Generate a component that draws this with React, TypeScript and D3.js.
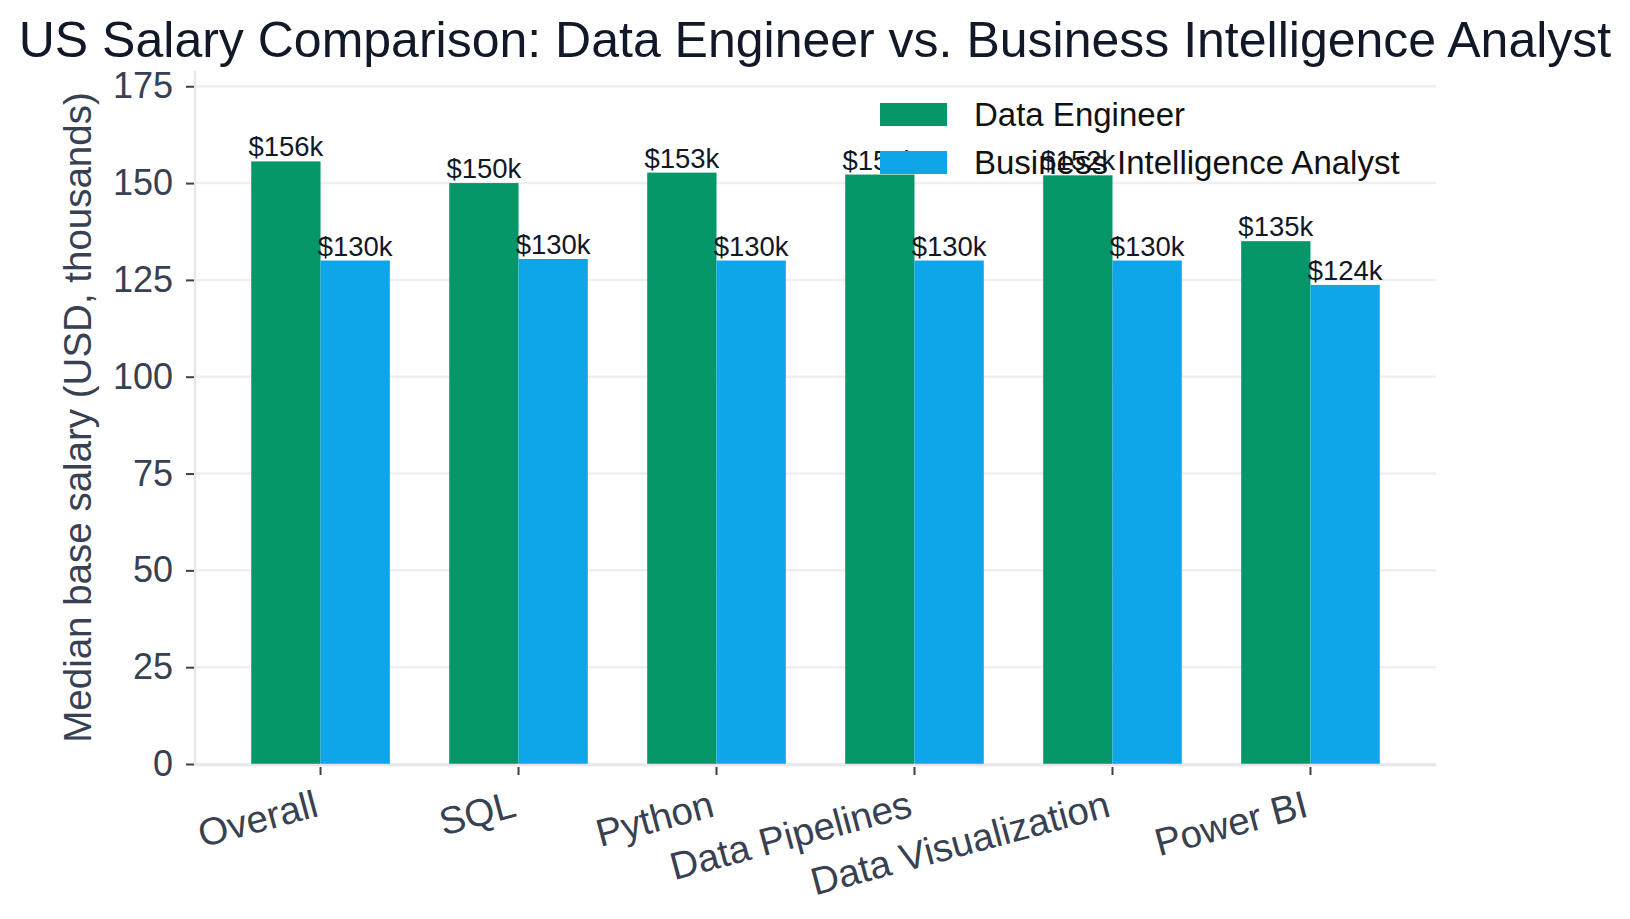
import React, { useEffect, useRef } from 'react';
import * as d3 from 'd3';

// chart data
const categories = ['Overall', 'SQL', 'Python', 'Data Pipelines', 'Data Visualization', 'Power BI'];
const seriesNames = ['Data Engineer', 'Business Intelligence Analyst'];
const dataEngineer = [155.6, 150.0, 152.7, 152.2, 152.0, 135.0];
const biAnalyst = [130.0, 130.4, 130.0, 130.0, 130.0, 123.7];
const yTicks = [0, 25, 50, 75, 100, 125, 150, 175];
const colors = ['#059669', '#0ea5e9'];

const W = 1630;
const H = 919;
const FONT = '"Liberation Sans", Arial, Helvetica, sans-serif';

export default function App() {
  const ref = useRef<SVGSVGElement>(null);

  useEffect(() => {
    const svg = d3.select(ref.current);
    svg.selectAll('*').remove();

    const left = 195, right = 1436, top = 71, bottom = 764;
    const yMax = (d3.max(dataEngineer) as number) * 1.15;

    const x = d3.scaleBand<string>()
      .domain(categories)
      .range([left, right])
      .paddingInner(0.3)
      .paddingOuter(0.284);
    const xs = d3.scaleBand<string>()
      .domain(seriesNames)
      .range([0, x.bandwidth()]);
    const y = d3.scaleLinear().domain([0, yMax]).range([bottom, top]);

    const rows = categories.map((c, i) => ({ cat: c, vals: [dataEngineer[i], biAnalyst[i]] }));

    // title
    svg.append('text')
      .attr('x', W / 2)
      .attr('y', 57)
      .attr('text-anchor', 'middle')
      .style('font-family', FONT)
      .style('font-size', '50px')
      .style('fill', '#111827')
      .text('US Salary Comparison: Data Engineer vs. Business Intelligence Analyst');

    // grid
    svg.append('g')
      .selectAll('line')
      .data(yTicks)
      .enter()
      .append('line')
      .attr('x1', left)
      .attr('x2', right)
      .attr('y1', d => y(d))
      .attr('y2', d => y(d))
      .style('stroke', '#eeeff2')
      .style('stroke-width', 2.5);

    // bars
    const groups = svg.append('g')
      .selectAll('g')
      .data(rows)
      .enter()
      .append('g')
      .attr('transform', d => `translate(${x(d.cat)},0)`);

    groups.selectAll('rect')
      .data(d => d.vals.map((v, k) => ({ v, k })))
      .enter()
      .append('rect')
      .attr('x', d => xs(seriesNames[d.k]) as number)
      .attr('y', d => y(d.v))
      .attr('width', xs.bandwidth())
      .attr('height', d => y(0) - y(d.v))
      .style('fill', d => colors[d.k]);

    // spines
    svg.append('line')
      .attr('x1', left).attr('x2', left).attr('y1', top).attr('y2', bottom + 1.5)
      .style('stroke', '#e5e7eb').style('stroke-width', 2.5);
    svg.append('line')
      .attr('x1', left).attr('x2', right).attr('y1', bottom + 1).attr('y2', bottom + 1)
      .style('stroke', '#e5e7eb').style('stroke-width', 2.5);

    // y axis
    const yAxis = svg.append('g')
      .attr('transform', `translate(${left - 1},0)`)
      .call(d3.axisLeft(y).tickValues(yTicks).tickSize(8).tickPadding(13));
    yAxis.select('.domain').remove();
    yAxis.selectAll('line').style('stroke', '#374151').style('stroke-width', 2);
    yAxis.selectAll('text')
      .style('font-family', FONT)
      .style('font-size', '36px')
      .style('fill', '#374151');

    // x axis
    const xAxis = svg.append('g')
      .attr('transform', `translate(0,${bottom + 3})`)
      .call(d3.axisBottom(x).tickSize(8));
    xAxis.select('.domain').remove();
    xAxis.selectAll('line').style('stroke', '#374151').style('stroke-width', 2);
    xAxis.selectAll('text')
      .attr('y', 0)
      .attr('dy', '0.75em')
      .attr('text-anchor', 'end')
      .attr('transform', 'translate(-8,21) rotate(-15)')
      .style('font-family', FONT)
      .style('font-size', '38.5px')
      .style('fill', '#374151');

    // y label
    svg.append('text')
      .attr('transform', `translate(91,${(top + bottom) / 2}) rotate(-90)`)
      .attr('text-anchor', 'middle')
      .style('font-family', FONT)
      .style('font-size', '38.5px')
      .style('fill', '#374151')
      .text('Median base salary (USD, thousands)');

    // value labels
    groups.selectAll('text.val')
      .data(d => d.vals.map((v, k) => ({ v, k })))
      .enter()
      .append('text')
      .attr('class', 'val')
      .attr('x', d => (xs(seriesNames[d.k]) as number) + xs.bandwidth() / 2)
      .attr('y', d => y(d.v) - 5)
      .attr('text-anchor', 'middle')
      .style('font-family', FONT)
      .style('font-size', '27.5px')
      .style('fill', '#111827')
      .text(d => `$${Math.round(d.v)}k`);

    // legend
    const legend = svg.append('g')
      .selectAll('g')
      .data(seriesNames)
      .enter()
      .append('g')
      .attr('transform', (d, i) => `translate(880,${103 + i * 48})`);
    legend.append('rect')
      .attr('width', 67)
      .attr('height', 23)
      .style('fill', (d, i) => colors[i]);
    legend.append('text')
      .attr('x', 94)
      .attr('y', 11.5)
      .attr('dy', '0.36em')
      .style('font-family', FONT)
      .style('font-size', '33px')
      .style('fill', '#111111')
      .text(d => d);
  }, []);

  return (
    <svg
      ref={ref}
      width={W}
      height={H}
      viewBox={`0 0 ${W} ${H}`}
      style={{ position: 'absolute', left: 0, top: 0, background: '#ffffff' }}
    />
  );
}
